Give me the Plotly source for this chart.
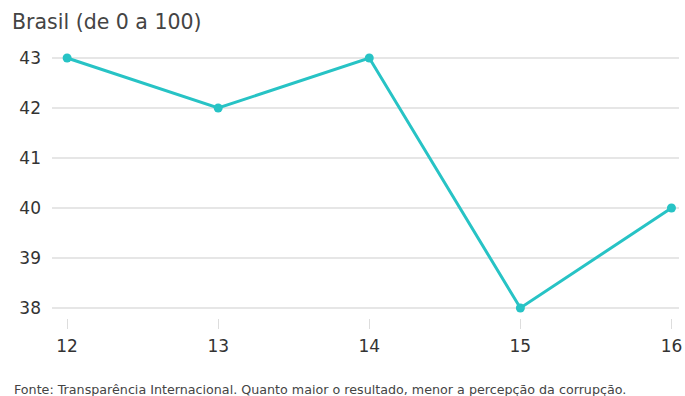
import plotly.graph_objects as go

# Índice de Percepção da Corrupção — Brasil
anos = [12, 13, 14, 15, 16]
pontuacao = [43, 42, 43, 38, 40]
y_ticks = [38, 39, 40, 41, 42, 43]

W, H = 685, 396
ML, MR, MT, MB = 52, 3, 48, 78
pw = W - ML - MR

fig = go.Figure()
fig.add_trace(go.Scatter(
    x=anos, y=pontuacao, mode="lines+markers",
    line=dict(color="#27c3c5", width=3),
    marker=dict(color="#27c3c5", size=9),
    hoverinfo="skip",
))

font_family = "'DejaVu Sans', sans-serif"

fig.update_layout(
    width=W, height=H,
    margin=dict(l=ML, r=MR, t=MT, b=MB),
    paper_bgcolor="white", plot_bgcolor="white",
    showlegend=False,
    font=dict(family=font_family, color="#333333"),
    title=dict(
        text="Brasil (de 0 a 100)",
        x=12 / W, xanchor="left", xref="container",
        y=1 - 22 / H, yanchor="middle", yref="container",
        font=dict(size=20.5, color="#444444", family=font_family),
    ),
    xaxis=dict(
        range=[11.9, 16.05],
        tickvals=anos, ticktext=[str(a) for a in anos],
        showgrid=False, zeroline=False, showline=False,
        ticks="outside", ticklen=10, tickwidth=1, tickcolor="#dddddd",
        tickfont=dict(size=17, color="#333333"),
        ticklabelstandoff=3,
        ticklabeloverflow="allow",
    ),
    yaxis=dict(
        range=[37.8, 43.2],
        tickvals=y_ticks, ticktext=[str(v) for v in y_ticks],
        showgrid=True, gridcolor="#e6e6e6", gridwidth=1.5,
        zeroline=False, showline=False, ticks="",
        tickfont=dict(size=17, color="#333333"),
        ticklabelstandoff=10,
    ),
    annotations=[dict(
        text="Fonte: Transparência Internacional. Quanto maior o resultado, menor a percepção da corrupção.",
        xref="paper", yref="paper",
        x=(12 - ML) / pw, xanchor="left",
        y=-(389 - (H - MB)) / (H - MT - MB), yanchor="middle",
        showarrow=False,
        font=dict(size=12.7, color="#444444", family=font_family),
    )],
)

fig.write_html("out.html")
